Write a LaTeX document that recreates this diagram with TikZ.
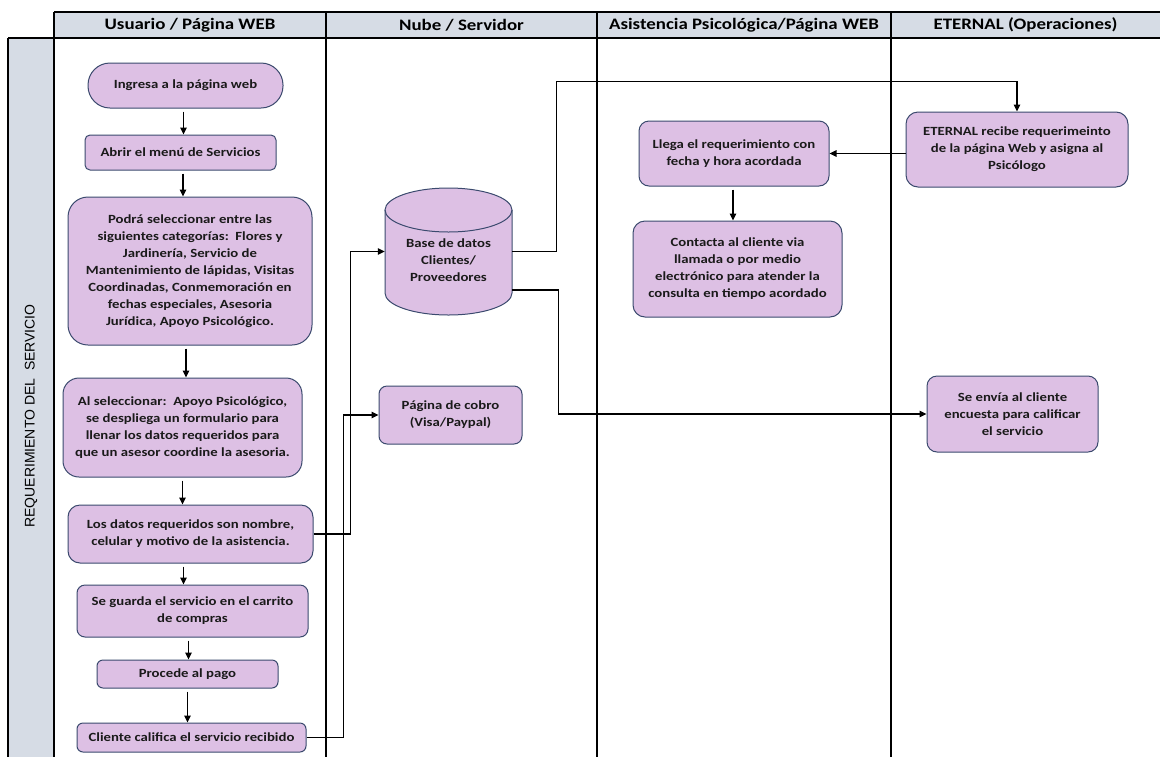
\documentclass[tikz,border=0pt]{standalone}
\usepackage{fontspec}
\setmainfont{Carlito}[FakeStretch=1.18]
\newfontfamily\rowfont{Liberation Sans}
\usetikzlibrary{arrows.meta}

\definecolor{boxfill}{HTML}{DDC0E4}
\definecolor{boxline}{HTML}{3B4A6E}
\definecolor{lanefill}{HTML}{D6DCE5}
\definecolor{inktext}{HTML}{1A1A1A}

\begin{document}
\begin{tikzpicture}[x=1pt,y=-1pt,
  every node/.style={font=\bfseries\fontsize{12.5}{17}\selectfont, align=center, inner sep=0pt, text=inktext},
  proc/.style={draw=boxline, fill=boxfill, line width=1pt},
  flow/.style={line width=1.1pt, -{Triangle[length=7pt,width=6.5pt]}, shorten <=3pt},
  lane/.style={line width=1.2pt},
  lanehead/.style={font=\bfseries\fontsize{16}{18}\selectfont, text=black}
]
\useasboundingbox (0,0) rectangle (1160,756);
\fill[white] (0,0) rectangle (1160,756);

% swimlane frame
\fill[lanefill] (54,12) rectangle (1160,38);
\fill[lanefill] (8,38) rectangle (54,760);
\draw[lane] (54,12) -- (1160,12);
\draw[lane] (8,38) -- (1160,38);
\draw[lane] (8,760) -- (8,38);
\foreach \lx in {54,326,597,891} \draw[lane] (\lx,12) -- (\lx,760);

\node[lanehead] (h1) at (190,25) {Usuario / Página WEB};
\node[lanehead] (h2) at (461.5,25) {Nube / Servidor};
\node[lanehead] (h3) at (744,25) {Asistencia Psicológica/Página WEB};
\node[lanehead] (h4) at (1025.5,25) {ETERNAL (Operaciones)};

\node[rotate=90, font=\rowfont\fontsize{14}{16}\selectfont, text=black] (rowlbl) at (31,416) {REQUERIMIENTO DEL\ \ SERVICIO};

% user lane
\node[proc, rounded corners=22, minimum width=195, minimum height=45] (ingresa) at (185.5,85.5) {Ingresa a la página web};
\node[proc, rounded corners=5, minimum width=191, minimum height=35] (menu) at (180.5,152.5) {Abrir el menú de Servicios};
\node[proc, rounded corners=20, minimum width=244, minimum height=148] (categ) at (190,271)
  {Podrá seleccionar entre las\\siguientes categorías:\ \ Flores y\\Jardinería, Servicio de\\Mantenimiento de lápidas, Visitas\\Coordinadas, Conmemoración en\\fechas especiales, Asesoria\\Jurídica, Apoyo Psicológico.};
\node[proc, rounded corners=16, minimum width=239, minimum height=99] (selec) at (182.5,427.5)
  {Al seleccionar:\ \ Apoyo Psicológico,\\se despliega un formulario para\\llenar los datos requeridos para\\que un asesor coordine la asesoria.};
\node[proc, rounded corners=12, minimum width=245, minimum height=58] (datos) at (190.5,534)
  {Los datos requeridos son nombre,\\celular y motivo de la asistencia.};
\node[proc, rounded corners=8, minimum width=231, minimum height=52] (carrito) at (192.5,611)
  {Se guarda el servicio en el carrito\\de compras};
\node[proc, rounded corners=6, minimum width=181, minimum height=28] (pago) at (187.5,674) {Procede al pago};
\node[proc, rounded corners=6, minimum width=229, minimum height=29] (califica) at (191.5,737.5) {Cliente califica el servicio recibido};

% server lane: database cylinder
\node[minimum width=127, minimum height=127] (db) at (448.5,251.5) {};
\fill[boxfill] (385,210) rectangle (512,293);
\fill[boxfill] (448.5,210) ellipse [x radius=63.5, y radius=22];
\fill[boxfill] (448.5,293) ellipse [x radius=63.5, y radius=22];
\draw[boxline, line width=1pt] (385,210) -- (385,293) arc[start angle=180, end angle=0, x radius=63.5, y radius=22] -- (512,210);
\draw[boxline, line width=1pt] (448.5,210) ellipse [x radius=63.5, y radius=22];
\node (dbtext) at (448.5,260) {Base de datos\\Clientes/\\Proveedores};

\node[proc, rounded corners=8, minimum width=143, minimum height=58] (cobro) at (450.5,415) {Página de cobro\\(Visa/Paypal)};

% psychologist lane
\node[proc, rounded corners=10, minimum width=190, minimum height=65] (llega) at (734,153.5)
  {Llega el requerimiento con\\fecha y hora acordada};
\node[proc, rounded corners=12, minimum width=209, minimum height=96] (contacta) at (737.5,269)
  {Contacta al cliente via\\llamada o por medio\\electrónico para atender la\\consulta en tiempo acordado};

% operations lane
\node[proc, rounded corners=12, minimum width=222, minimum height=75] (eternal) at (1017,149.5)
  {ETERNAL recibe requerimeinto\\de la página Web y asigna al\\Psicólogo};
\node[proc, rounded corners=10, minimum width=171, minimum height=76] (encuesta) at (1012.5,414)
  {Se envía al cliente\\encuesta para calificar\\el servicio};

% vertical flow in the user lane
\draw[flow] ([xshift=-2pt]ingresa.south) -- ([xshift=-2pt]ingresa.south |- menu.north);
\draw[flow] ([xshift=2.5pt]menu.south) -- ([xshift=2.5pt]menu.south |- categ.north);
\draw[flow] ([xshift=-4pt]categ.south) -- ([xshift=-4pt]categ.south |- selec.north);
\draw[flow] (selec.south) -- (selec.south |- datos.north);
\draw[flow] ([xshift=-7pt]datos.south) -- ([xshift=-7pt]datos.south |- carrito.north);
\draw[flow] ([xshift=-4pt]carrito.south) -- ([xshift=-4pt]carrito.south |- pago.north);
\draw[flow] (pago.south) -- (pago.south |- califica.north);

% links to the server lane
\draw[flow, shorten <=0pt] (datos.east) -- ++(37,0) |- (db.west);
\draw[flow, shorten <=0pt] (califica.east) -- ++(37,0) |- (cobro.west);

% links from the database
\draw[flow, shorten <=0pt] (db.east) -- ++(44,0) -- ++(0,-170) -| (eternal.north);
\draw[flow, shorten <=0pt] ([yshift=-38.5pt]db.east) -- ++(46,0) |- (encuesta.west);

% operations to psychologist
\draw[flow, shorten <=0pt] (llega.east -| eternal.west) -- (llega.east);
\draw[flow] ([xshift=-1pt]llega.south) -- ([xshift=-1pt]llega.south |- contacta.north);
\end{tikzpicture}
\end{document}
